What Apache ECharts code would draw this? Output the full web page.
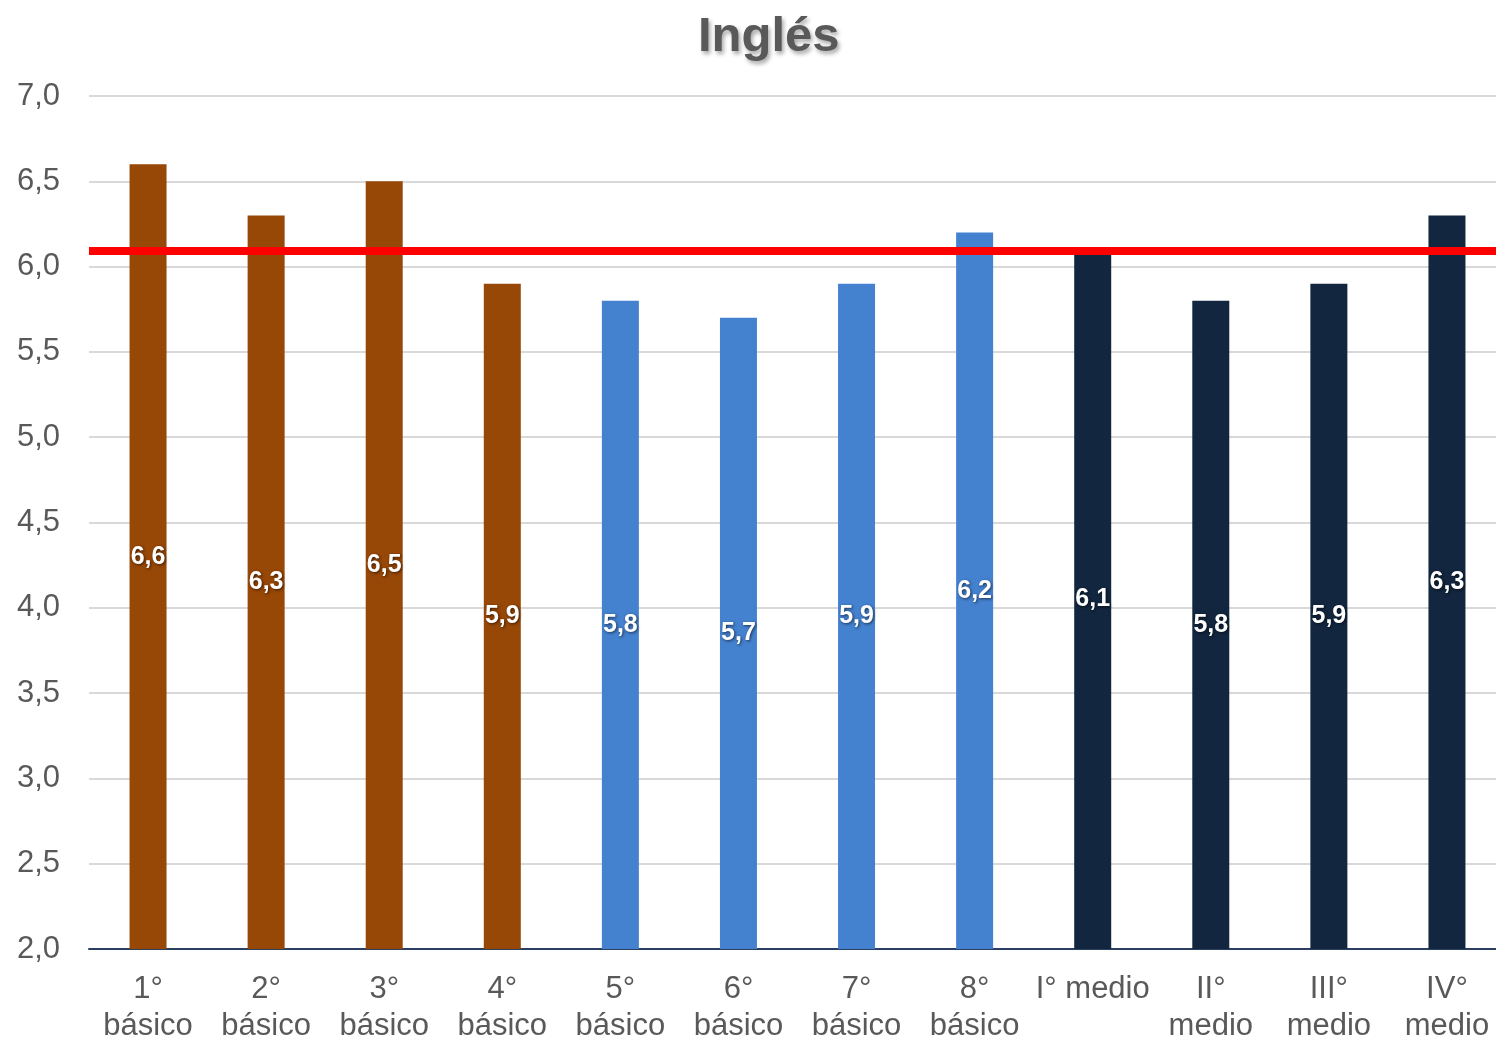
<!DOCTYPE html>
<html>
<head>
<meta charset="utf-8">
<script src="https://cdn.jsdelivr.net/npm/echarts@6/dist/echarts.min.js"></script>
<style>
  html, body { margin: 0; padding: 0; background: #fff; }
  #chart { width: 1496px; height: 1039px; }
</style>
</head>
<body>
<div id="chart"></div>
<script>
let categories = ['1°\nbásico', '2°\nbásico', '3°\nbásico', '4°\nbásico', '5°\nbásico', '6°\nbásico', '7°\nbásico', '8°\nbásico', 'I° medio', 'II°\nmedio', 'III°\nmedio', 'IV°\nmedio']
let values = [6.6, 6.3, 6.5, 5.9, 5.8, 5.7, 5.9, 6.2, 6.1, 5.8, 5.9, 6.3]
let barColors = ['#974706', '#974706', '#974706', '#974706', '#4481CF', '#4481CF', '#4481CF', '#4481CF', '#12263F', '#12263F', '#12263F', '#12263F']
let average = 6.09

var chart = echarts.init(document.getElementById('chart'))

let option = {
  animation: false,
  title: {
    text: 'Inglés',
    left: 693,
    top: 8,
    textStyle: {
      fontFamily: 'Liberation Sans',
      fontSize: 49,
      fontWeight: 'bold',
      color: '#595959',
      textShadowColor: 'rgba(0,0,0,0.35)',
      textShadowBlur: 4,
      textShadowOffsetX: 2,
      textShadowOffsetY: 3
    }
  },
  // the plot runs a bit past the right edge of the picture
  grid: { left: 89, right: -10, top: 96, bottom: 90, outerBoundsMode: 'none', containLabel: false },
  xAxis: {
    type: 'category',
    data: categories,
    axisLine: { lineStyle: { color: '#2B4060', width: 2 } },
    axisTick: { show: false },
    axisLabel: {
      interval: 0,
      margin: 22,
      fontFamily: 'Liberation Sans',
      fontSize: 31,
      lineHeight: 37,
      color: '#595959'
    }
  },
  yAxis: {
    type: 'value',
    min: 2,
    max: 7,
    interval: 0.5,
    axisLine: { show: false },
    axisTick: { show: false },
    splitLine: { lineStyle: { color: '#D9D9D9', width: 2 } },
    axisLabel: {
      margin: 29,
      fontFamily: 'Liberation Sans',
      fontSize: 31,
      color: '#595959',
      formatter: v => v.toFixed(1).replace('.', ',')
    }
  },
  series: [{
    type: 'bar',
    barWidth: 37,
    data: values.map((v, i) => ({ value: v, itemStyle: { color: barColors[i] } })),
    label: {
      show: true,
      position: 'inside',
      fontFamily: 'Liberation Sans',
      fontSize: 25,
      fontWeight: 'bold',
      color: '#fff',
      textShadowColor: 'rgba(0,0,0,0.6)',
      textShadowBlur: 3,
      textShadowOffsetX: 1,
      textShadowOffsetY: 1,
      formatter: p => p.value.toFixed(1).replace('.', ',')
    },
    markLine: {
      silent: true,
      symbol: 'none',
      label: { show: false },
      lineStyle: { color: '#FF0000', width: 8, type: 'solid' },
      data: [{ yAxis: average }]
    }
  }]
}
chart.setOption(option)
</script>
</body>
</html>
